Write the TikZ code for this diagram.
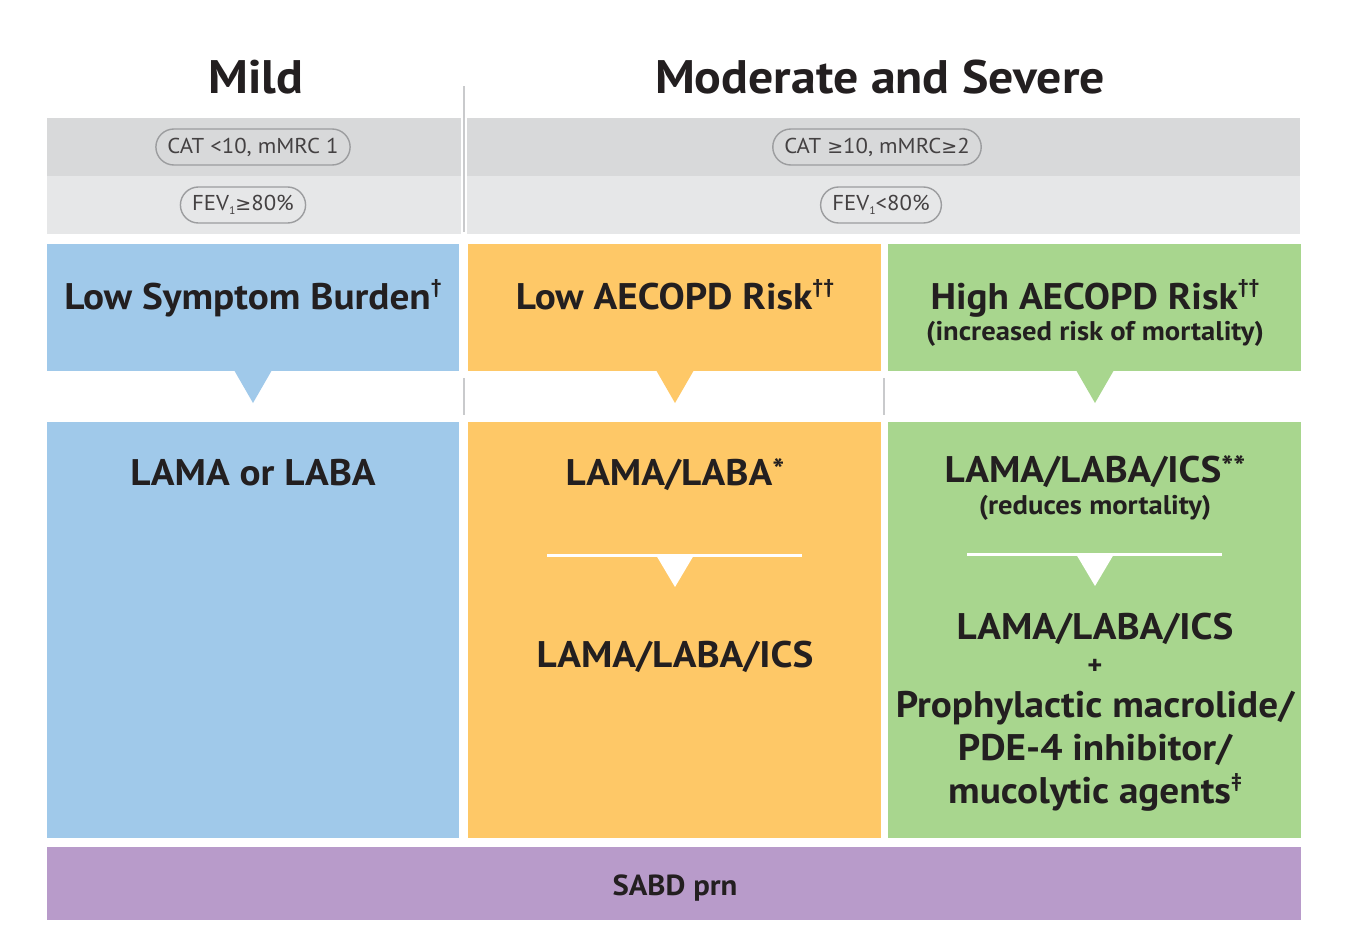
\documentclass[tikz,border=0pt]{standalone}
\usepackage{fontspec}
\setmainfont[FakeStretch=1.06]{PT Sans}
\newfontfamily\symfont{DejaVu Sans}
\usetikzlibrary{shapes.misc}

\definecolor{mildblue}{HTML}{A0C9EA}
\definecolor{lowgold}{HTML}{FEC867}
\definecolor{highgreen}{HTML}{A8D68E}
\definecolor{sabdpurple}{HTML}{B89BCA}
\definecolor{banddark}{HTML}{D8D9DA}
\definecolor{bandlight}{HTML}{E6E7E8}
\definecolor{pillline}{HTML}{9C9D9F}
\definecolor{sepgray}{HTML}{C9CACC}
\definecolor{ink}{HTML}{231F20}

\newcommand{\fnmark}[1]{\raisebox{0.42em}{\fontsize{20}{20}\selectfont #1}}
\newcommand{\starmark}[1]{\raisebox{0.12em}{\fontsize{30}{30}\selectfont #1}}
\newcommand{\gesym}{{\symfont\fontsize{19}{19}\selectfont ≥}}

\tikzset{
  pill/.style={rounded rectangle, draw=pillline, line width=1.4pt, minimum height=36pt,
    inner xsep=9pt, text=ink!85, font=\fontsize{21.5}{21.5}\selectfont},
  title/.style={anchor=base, text=ink, font=\fontsize{47}{47}\selectfont\bfseries},
  boxhead/.style={anchor=base, text=ink, align=center, font=\fontsize{37}{37}\selectfont\bfseries},
  boxsub/.style={anchor=base, text=ink, font=\fontsize{27}{27}\selectfont\bfseries},
  sep/.style={draw=sepgray, line width=1.6pt}
}

\begin{document}
\begin{tikzpicture}[x=1pt,y=-1pt]
        \useasboundingbox[fill=white](0,0) rectangle (1349,945);

        \node[title] (mild) at (256,93) {Mild};
        \node[title] (modsev) at (880,93) {Moderate and Severe};

        \fill[banddark](47,118) rectangle (461,176);
        \fill[bandlight](47,176) rectangle (461,234);
        \fill[banddark](467,118) rectangle (1300,176);
        \fill[bandlight](467,176) rectangle (1300,234);
        \draw[sep](464,86)--(464,232);
        \draw[sep](464,378)--(464,415);
        \draw[sep](884,378)--(884,415);

        \node[pill,fill=banddark] (catlow) at (253,147) {CAT <10, mMRC 1};
        \node[pill,fill=bandlight] (fevhigh) at (243,205) {FEV\raisebox{-0.35ex}{\fontsize{11}{11}\selectfont 1}\gesym 80\%};
        \node[pill,fill=banddark] (cathigh) at (877,147) {CAT \gesym 10, mMRC\gesym 2};
        \node[pill,fill=bandlight] (fevlow) at (881,205) {FEV\raisebox{-0.35ex}{\fontsize{11}{11}\selectfont 1}<80\%};

        \fill[mildblue](47,244) rectangle (459,371);
        \fill[mildblue](234,370)--(272,370)--(253,403)--cycle;
        \fill[lowgold](468,244) rectangle (881,371);
        \fill[lowgold](656,370)--(694,370)--(675,403)--cycle;
        \fill[highgreen](888,244) rectangle (1301,371);
        \fill[highgreen](1076,370)--(1114,370)--(1095,403)--cycle;

        \node[boxhead] (lowsym) at (253,309) {Low Symptom Burden\fnmark{†}};
        \node[boxhead] (lowrisk) at (675,309) {Low AECOPD Risk\fnmark{††}};
        \node[boxhead] (highrisk) at (1095,309) {High AECOPD Risk\fnmark{††}};
        \node[boxsub] (mortrisk) at (1095,340) {(increased risk of mortality)};

        \fill[mildblue](47,422) rectangle (459,838);
        \fill[lowgold](468,422) rectangle (881,838);
        \fill[highgreen](888,422) rectangle (1301,838);

        \node[boxhead] (lamalaba) at (253,485) {LAMA or LABA};
        \node[boxhead] (dual) at (675,485) {LAMA/LABA\starmark{*}};
        \draw[white,line width=3pt](547,555)--(802,555);
        \fill[white](656,555)--(694,555)--(675,587)--cycle;
        \node[boxhead] (tripleb) at (675,667) {LAMA/LABA/ICS};

        \node[boxhead] (triple) at (1095,482) {LAMA/LABA/ICS\starmark{**}};
        \node[boxsub] (redmort) at (1095,514) {(reduces mortality)};
        \draw[white,line width=3pt](967,554)--(1222,554);
        \fill[white](1076,554)--(1114,554)--(1095,586)--cycle;
        \node[boxhead] (triplec) at (1095,639) {LAMA/LABA/ICS};
        \node[boxsub] (plus) at (1095,674) {+};
        \node[boxhead] (addon1) at (1095,717) {Prophylactic macrolide/};
        \node[boxhead] (addon2) at (1095,760) {PDE-4 inhibitor/};
        \node[boxhead] (addon3) at (1095,803) {mucolytic agents\fnmark{‡}};

        \fill[sabdpurple](47,847) rectangle (1301,920);
        \node[anchor=base,text=ink,font=\fontsize{29}{29}\selectfont] (sabd) at (675,895) {\textbf{SABD prn}};
    \end{tikzpicture}
\end{document}
